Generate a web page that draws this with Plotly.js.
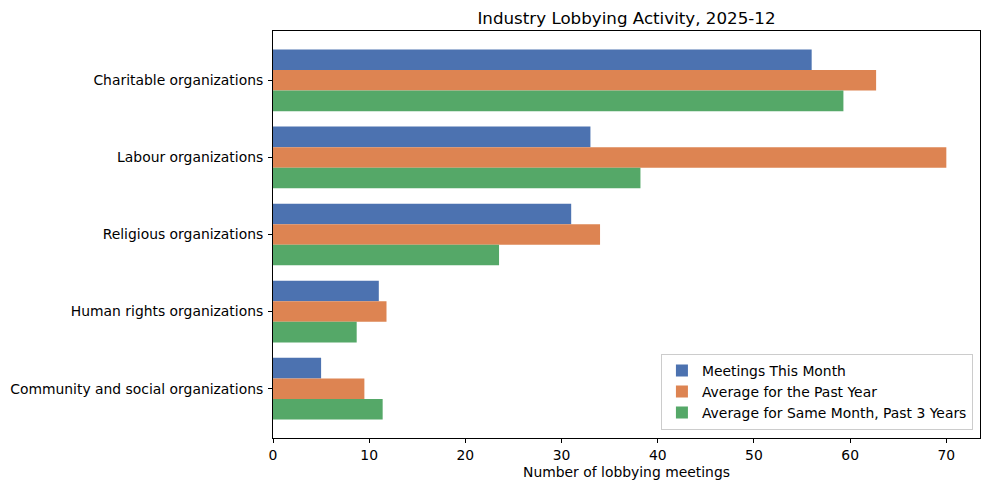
<!DOCTYPE html>
<html>
<head>
<meta charset="utf-8">
<script src="https://cdn.plot.ly/plotly-3.0.1.min.js"></script>
<style>
  html, body { margin: 0; padding: 0; background: #fff; }
  #grafico { width: 990px; height: 491px; }
</style>
</head>
<body>
<div id="grafico"></div>
<script>
// categorias e series
const categorias = [
  'Charitable organizations',
  'Labour organizations',
  'Religious organizations',
  'Human rights organizations',
  'Community and social organizations'
];
const reunioesMes = [56, 33, 31, 11, 5];
const mediaAno = [62.7, 70.0, 34.0, 11.8, 9.5];
const mediaTresAnos = [59.3, 38.2, 23.5, 8.7, 11.4];
const ticksX = [0, 10, 20, 30, 40, 50, 60, 70];

const nomes = ['Meetings This Month', 'Average for the Past Year', 'Average for Same Month, Past 3 Years'];
const cores = ['#4C72B0', '#DD8452', '#55A868'];
const series = [reunioesMes, mediaAno, mediaTresAnos];

var data = series.map(function (valores, k) {
  return {
    type: 'bar',
    orientation: 'h',
    y: categorias,
    x: valores,
    name: nomes[k],
    marker: { color: cores[k], line: { width: 0 } },
    hoverinfo: 'x+y'
  };
});

var eixo = {
  showline: true,
  linecolor: '#000',
  linewidth: 1,
  mirror: true,
  ticks: 'outside',
  ticklen: 4,
  tickwidth: 1,
  tickcolor: '#000',
  showgrid: false,
  zeroline: false
};

var layout = {
  width: 990,
  height: 491,
  margin: { l: 273, r: 10, t: 31, b: 53 },
  paper_bgcolor: '#fff',
  plot_bgcolor: '#fff',
  font: { family: 'DejaVu Sans', size: 13.9, color: '#000' },
  title: {
    text: 'Industry Lobbying Activity, 2025-12',
    font: { size: 16.7, color: '#000' },
    x: 626.5 / 990, // centro da area do grafico
    xanchor: 'center',
    y: 1 - 18 / 491,
    yanchor: 'middle'
  },
  barmode: 'group',
  bargap: 0.2,
  bargroupgap: 0,
  xaxis: Object.assign({}, eixo, {
    range: [0, 73.5],
    tickvals: ticksX,
    title: { text: 'Number of lobbying meetings', font: { size: 13.9 }, standoff: 5 }
  }),
  yaxis: Object.assign({}, eixo, {
    type: 'category',
    range: [4.64, -0.64],
    ticklabelstandoff: 2
  }),
  showlegend: true,
  legend: {
    x: 0.99,
    xanchor: 'right',
    y: 0.02,
    yanchor: 'bottom',
    bgcolor: 'rgba(255,255,255,0.8)',
    bordercolor: '#cccccc',
    borderwidth: 1,
    font: { size: 13.9 },
    traceorder: 'normal',
    tracegroupgap: 0
  }
};

Plotly.newPlot('grafico', data, layout, { displayModeBar: false, staticPlot: true });
</script>
</body>
</html>
